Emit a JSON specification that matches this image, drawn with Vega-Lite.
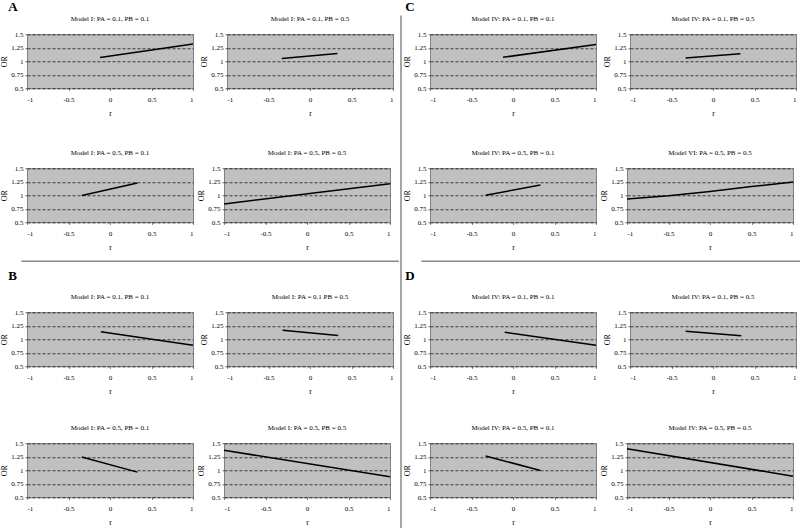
{
  "$schema": "https://vega.github.io/schema/vega-lite/v6.json",
  "padding": {"left": 0, "top": 0, "right": 0, "bottom": 0},
  "background": "white",
  "data": {"values": [
    {"p": "A1", "r": -0.12, "or": 1.07}, {"p": "A1", "r": 1, "or": 1.32},
    {"p": "A2", "r": -0.34, "or": 1.05}, {"p": "A2", "r": 0.33, "or": 1.145},
    {"p": "A3", "r": -0.34, "or": 0.995}, {"p": "A3", "r": 0.33, "or": 1.225},
    {"p": "A4", "r": -1, "or": 0.84}, {"p": "A4", "r": 1, "or": 1.215},
    {"p": "B1", "r": -0.11, "or": 1.14}, {"p": "B1", "r": 1, "or": 0.89},
    {"p": "B2", "r": -0.33, "or": 1.165}, {"p": "B2", "r": 0.34, "or": 1.07},
    {"p": "B3", "r": -0.34, "or": 1.245}, {"p": "B3", "r": 0.33, "or": 0.965},
    {"p": "B4", "r": -1, "or": 1.37}, {"p": "B4", "r": 1, "or": 0.88},
    {"p": "C1", "r": -0.12, "or": 1.073}, {"p": "C1", "r": 1, "or": 1.31},
    {"p": "C2", "r": -0.33, "or": 1.06}, {"p": "C2", "r": 0.33, "or": 1.14},
    {"p": "C3", "r": -0.33, "or": 1.0}, {"p": "C3", "r": 0.33, "or": 1.19},
    {"p": "C4", "r": -1, "or": 0.93}, {"p": "C4", "r": -0.5, "or": 0.99}, {"p": "C4", "r": 0, "or": 1.07}, {"p": "C4", "r": 0.5, "or": 1.16}, {"p": "C4", "r": 1, "or": 1.245},
    {"p": "D1", "r": -0.1, "or": 1.13}, {"p": "D1", "r": 1, "or": 0.89},
    {"p": "D2", "r": -0.33, "or": 1.15}, {"p": "D2", "r": 0.34, "or": 1.067},
    {"p": "D3", "r": -0.33, "or": 1.264}, {"p": "D3", "r": 0.33, "or": 0.997},
    {"p": "D4", "r": -1, "or": 1.4}, {"p": "D4", "r": 1, "or": 0.89}
  ]},
  "hconcat": [
    {
      "vconcat": [
        {
          "title": {"text": "A", "anchor": "start", "fontSize": 13, "fontWeight": "bold", "dx": 8, "offset": 1},
          "vconcat": [
            {"hconcat": [
              {"title": "Model I: PA = 0.1, PB = 0.1", "width": 166, "height": 54, "transform": [{"filter": "datum.p === 'A1'"}], "mark": "line",
               "encoding": {"x": {"field": "r", "type": "quantitative", "scale": {"domain": [-1, 1]}, "axis": {"values": [-1, -0.5, 0, 0.5, 1], "title": "r", "labelExpr": "'' + datum.value"}},
                            "y": {"field": "or", "type": "quantitative", "scale": {"domain": [0.5, 1.5]}, "axis": {"values": [0.5, 0.75, 1, 1.25, 1.5], "title": "OR", "labelExpr": "'' + datum.value"}}}},
              {"title": "Model I: PA = 0.1, PB = 0.5", "width": 166, "height": 54, "transform": [{"filter": "datum.p === 'A2'"}], "mark": "line",
               "encoding": {"x": {"field": "r", "type": "quantitative", "scale": {"domain": [-1, 1]}, "axis": {"values": [-1, -0.5, 0, 0.5, 1], "title": "r", "labelExpr": "'' + datum.value"}},
                            "y": {"field": "or", "type": "quantitative", "scale": {"domain": [0.5, 1.5]}, "axis": {"values": [0.5, 0.75, 1, 1.25, 1.5], "title": "OR", "labelExpr": "'' + datum.value"}}}}
            ], "spacing": 3},
            {"hconcat": [
              {"title": "Model I: PA = 0.5, PB = 0.1", "width": 166, "height": 54, "transform": [{"filter": "datum.p === 'A3'"}], "mark": "line",
               "encoding": {"x": {"field": "r", "type": "quantitative", "scale": {"domain": [-1, 1]}, "axis": {"values": [-1, -0.5, 0, 0.5, 1], "title": "r", "labelExpr": "'' + datum.value"}},
                            "y": {"field": "or", "type": "quantitative", "scale": {"domain": [0.5, 1.5]}, "axis": {"values": [0.5, 0.75, 1, 1.25, 1.5], "title": "OR", "labelExpr": "'' + datum.value"}}}},
              {"title": "Model I: PA = 0.5, PB = 0.5", "width": 166, "height": 54, "transform": [{"filter": "datum.p === 'A4'"}], "mark": "line",
               "encoding": {"x": {"field": "r", "type": "quantitative", "scale": {"domain": [-1, 1]}, "axis": {"values": [-1, -0.5, 0, 0.5, 1], "title": "r", "labelExpr": "'' + datum.value"}},
                            "y": {"field": "or", "type": "quantitative", "scale": {"domain": [0.5, 1.5]}, "axis": {"values": [0.5, 0.75, 1, 1.25, 1.5], "title": "OR", "labelExpr": "'' + datum.value"}}}}
            ], "spacing": 3}
          ], "spacing": 30
        },
        {"data": {"values": [{}]}, "mark": "text", "encoding": {"text": {"value": ""}}, "width": 376, "height": 0.001, "view": {"fill": null, "stroke": "#888888", "strokeWidth": 1.5}},
        {
          "title": {"text": "B", "anchor": "start", "fontSize": 13, "fontWeight": "bold", "dx": 8, "offset": 10},
          "vconcat": [
            {"hconcat": [
              {"title": "Model I: PA = 0.1, PB = 0.1", "width": 166, "height": 54, "transform": [{"filter": "datum.p === 'B1'"}], "mark": "line",
               "encoding": {"x": {"field": "r", "type": "quantitative", "scale": {"domain": [-1, 1]}, "axis": {"values": [-1, -0.5, 0, 0.5, 1], "title": "r", "labelExpr": "'' + datum.value"}},
                            "y": {"field": "or", "type": "quantitative", "scale": {"domain": [0.5, 1.5]}, "axis": {"values": [0.5, 0.75, 1, 1.25, 1.5], "title": "OR", "labelExpr": "'' + datum.value"}}}},
              {"title": "Model I: PA = 0.1 PB = 0.5", "width": 166, "height": 54, "transform": [{"filter": "datum.p === 'B2'"}], "mark": "line",
               "encoding": {"x": {"field": "r", "type": "quantitative", "scale": {"domain": [-1, 1]}, "axis": {"values": [-1, -0.5, 0, 0.5, 1], "title": "r", "labelExpr": "'' + datum.value"}},
                            "y": {"field": "or", "type": "quantitative", "scale": {"domain": [0.5, 1.5]}, "axis": {"values": [0.5, 0.75, 1, 1.25, 1.5], "title": "OR", "labelExpr": "'' + datum.value"}}}}
            ], "spacing": 3},
            {"hconcat": [
              {"title": "Model I: PA = 0.5, PB = 0.1", "width": 166, "height": 54, "transform": [{"filter": "datum.p === 'B3'"}], "mark": "line",
               "encoding": {"x": {"field": "r", "type": "quantitative", "scale": {"domain": [-1, 1]}, "axis": {"values": [-1, -0.5, 0, 0.5, 1], "title": "r", "labelExpr": "'' + datum.value"}},
                            "y": {"field": "or", "type": "quantitative", "scale": {"domain": [0.5, 1.5]}, "axis": {"values": [0.5, 0.75, 1, 1.25, 1.5], "title": "OR", "labelExpr": "'' + datum.value"}}}},
              {"title": "Model I: PA = 0.5, PB = 0.5", "width": 166, "height": 54, "transform": [{"filter": "datum.p === 'B4'"}], "mark": "line",
               "encoding": {"x": {"field": "r", "type": "quantitative", "scale": {"domain": [-1, 1]}, "axis": {"values": [-1, -0.5, 0, 0.5, 1], "title": "r", "labelExpr": "'' + datum.value"}},
                            "y": {"field": "or", "type": "quantitative", "scale": {"domain": [0.5, 1.5]}, "axis": {"values": [0.5, 0.75, 1, 1.25, 1.5], "title": "OR", "labelExpr": "'' + datum.value"}}}}
            ], "spacing": 3}
          ], "spacing": 27
        }
      ], "spacing": 2, "center": true
    },
    {"data": {"values": [{}]}, "mark": "text", "encoding": {"text": {"value": ""}}, "width": 0.001, "height": 528, "view": {"fill": null, "stroke": "#888888", "strokeWidth": 1.5}},
    {
      "vconcat": [
        {
          "title": {"text": "C", "anchor": "start", "fontSize": 13, "fontWeight": "bold", "dx": 2, "offset": 1},
          "vconcat": [
            {"hconcat": [
              {"title": "Model IV: PA = 0.1, PB = 0.1", "width": 166, "height": 54, "transform": [{"filter": "datum.p === 'C1'"}], "mark": "line",
               "encoding": {"x": {"field": "r", "type": "quantitative", "scale": {"domain": [-1, 1]}, "axis": {"values": [-1, -0.5, 0, 0.5, 1], "title": "r", "labelExpr": "'' + datum.value"}},
                            "y": {"field": "or", "type": "quantitative", "scale": {"domain": [0.5, 1.5]}, "axis": {"values": [0.5, 0.75, 1, 1.25, 1.5], "title": "OR", "labelExpr": "'' + datum.value"}}}},
              {"title": "Model IV: PA = 0.1, PB = 0.5", "width": 166, "height": 54, "transform": [{"filter": "datum.p === 'C2'"}], "mark": "line",
               "encoding": {"x": {"field": "r", "type": "quantitative", "scale": {"domain": [-1, 1]}, "axis": {"values": [-1, -0.5, 0, 0.5, 1], "title": "r", "labelExpr": "'' + datum.value"}},
                            "y": {"field": "or", "type": "quantitative", "scale": {"domain": [0.5, 1.5]}, "axis": {"values": [0.5, 0.75, 1, 1.25, 1.5], "title": "OR", "labelExpr": "'' + datum.value"}}}}
            ], "spacing": 3},
            {"hconcat": [
              {"title": "Model IV: PA = 0.5, PB = 0.1", "width": 166, "height": 54, "transform": [{"filter": "datum.p === 'C3'"}], "mark": "line",
               "encoding": {"x": {"field": "r", "type": "quantitative", "scale": {"domain": [-1, 1]}, "axis": {"values": [-1, -0.5, 0, 0.5, 1], "title": "r", "labelExpr": "'' + datum.value"}},
                            "y": {"field": "or", "type": "quantitative", "scale": {"domain": [0.5, 1.5]}, "axis": {"values": [0.5, 0.75, 1, 1.25, 1.5], "title": "OR", "labelExpr": "'' + datum.value"}}}},
              {"title": "Model VI: PA = 0.5, PB = 0.5", "width": 166, "height": 54, "transform": [{"filter": "datum.p === 'C4'"}], "mark": "line",
               "encoding": {"x": {"field": "r", "type": "quantitative", "scale": {"domain": [-1, 1]}, "axis": {"values": [-1, -0.5, 0, 0.5, 1], "title": "r", "labelExpr": "'' + datum.value"}},
                            "y": {"field": "or", "type": "quantitative", "scale": {"domain": [0.5, 1.5]}, "axis": {"values": [0.5, 0.75, 1, 1.25, 1.5], "title": "OR", "labelExpr": "'' + datum.value"}}}}
            ], "spacing": 3}
          ], "spacing": 30
        },
        {"data": {"values": [{}]}, "mark": "text", "encoding": {"text": {"value": ""}}, "width": 382, "height": 0.001, "view": {"fill": null, "stroke": "#888888", "strokeWidth": 1.5}},
        {
          "title": {"text": "D", "anchor": "start", "fontSize": 13, "fontWeight": "bold", "dx": 2, "offset": 10},
          "vconcat": [
            {"hconcat": [
              {"title": "Model IV: PA = 0.1, PB = 0.1", "width": 166, "height": 54, "transform": [{"filter": "datum.p === 'D1'"}], "mark": "line",
               "encoding": {"x": {"field": "r", "type": "quantitative", "scale": {"domain": [-1, 1]}, "axis": {"values": [-1, -0.5, 0, 0.5, 1], "title": "r", "labelExpr": "'' + datum.value"}},
                            "y": {"field": "or", "type": "quantitative", "scale": {"domain": [0.5, 1.5]}, "axis": {"values": [0.5, 0.75, 1, 1.25, 1.5], "title": "OR", "labelExpr": "'' + datum.value"}}}},
              {"title": "Model IV: PA = 0.1, PB = 0.5", "width": 166, "height": 54, "transform": [{"filter": "datum.p === 'D2'"}], "mark": "line",
               "encoding": {"x": {"field": "r", "type": "quantitative", "scale": {"domain": [-1, 1]}, "axis": {"values": [-1, -0.5, 0, 0.5, 1], "title": "r", "labelExpr": "'' + datum.value"}},
                            "y": {"field": "or", "type": "quantitative", "scale": {"domain": [0.5, 1.5]}, "axis": {"values": [0.5, 0.75, 1, 1.25, 1.5], "title": "OR", "labelExpr": "'' + datum.value"}}}}
            ], "spacing": 3},
            {"hconcat": [
              {"title": "Model IV: PA = 0.5, PB = 0.1", "width": 166, "height": 54, "transform": [{"filter": "datum.p === 'D3'"}], "mark": "line",
               "encoding": {"x": {"field": "r", "type": "quantitative", "scale": {"domain": [-1, 1]}, "axis": {"values": [-1, -0.5, 0, 0.5, 1], "title": "r", "labelExpr": "'' + datum.value"}},
                            "y": {"field": "or", "type": "quantitative", "scale": {"domain": [0.5, 1.5]}, "axis": {"values": [0.5, 0.75, 1, 1.25, 1.5], "title": "OR", "labelExpr": "'' + datum.value"}}}},
              {"title": "Model IV: PA = 0.5, PB = 0.5", "width": 166, "height": 54, "transform": [{"filter": "datum.p === 'D4'"}], "mark": "line",
               "encoding": {"x": {"field": "r", "type": "quantitative", "scale": {"domain": [-1, 1]}, "axis": {"values": [-1, -0.5, 0, 0.5, 1], "title": "r", "labelExpr": "'' + datum.value"}},
                            "y": {"field": "or", "type": "quantitative", "scale": {"domain": [0.5, 1.5]}, "axis": {"values": [0.5, 0.75, 1, 1.25, 1.5], "title": "OR", "labelExpr": "'' + datum.value"}}}}
            ], "spacing": 3}
          ], "spacing": 27
        }
      ], "spacing": 2, "center": true
    }
  ],
  "spacing": 1,
  "center": true,
  "config": {
    "view": {"fill": "#c0c0c0", "stroke": "#808080", "strokeWidth": 1},
    "axis": {"labelFont": "Liberation Serif", "titleFont": "Liberation Serif", "labelFontSize": 7, "titleFontSize": 8, "titleFontWeight": "normal", "labelColor": "#000", "titleColor": "#000", "domain": false, "tickSize": 2, "tickColor": "#666", "gridColor": "#000", "gridDash": [3, 2], "gridOpacity": 0.7, "labelPadding": 2},
    "axisX": {"grid": false, "labelPadding": 5, "titlePadding": 7},
    "axisY": {"titlePadding": 2},
    "title": {"font": "Liberation Serif", "fontSize": 7, "fontWeight": "normal", "color": "#000", "offset": 8},
    "line": {"color": "#000", "strokeWidth": 1.5}
  }
}
